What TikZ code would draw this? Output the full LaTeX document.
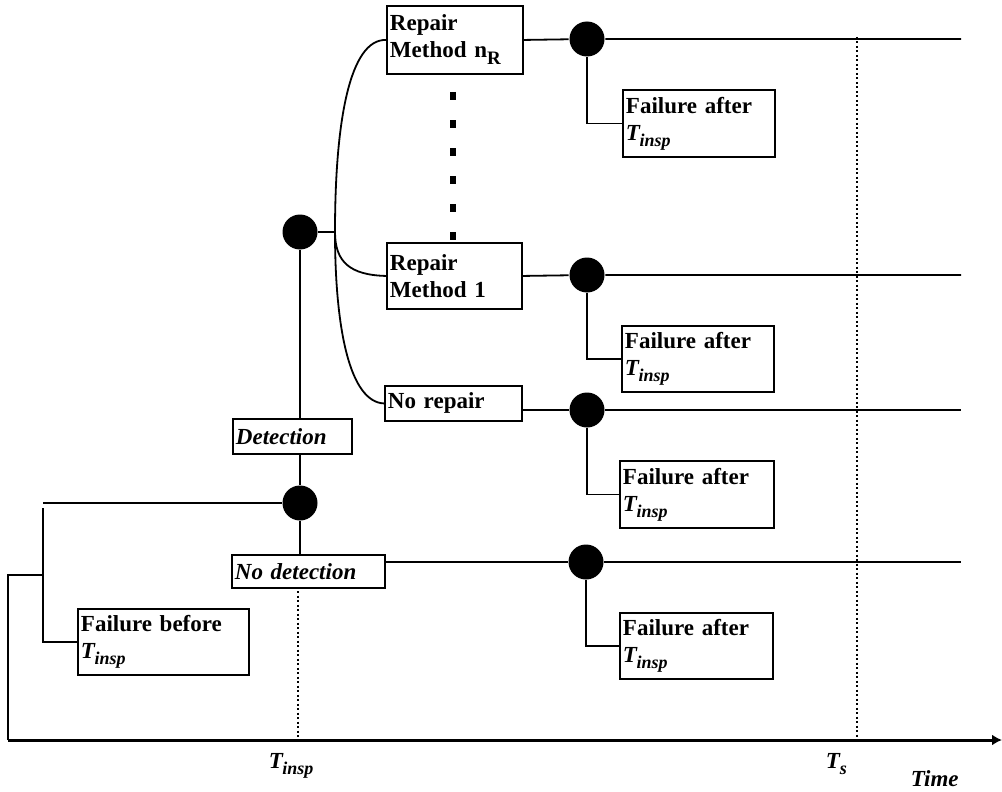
\documentclass[tikz,border=0pt]{standalone}
\usepackage{fontspec}
\setmainfont{Liberation Serif}
\usetikzlibrary{arrows.meta}
\newcommand\myTinsp{{\bfseries\itshape\fontsize{23}{23}\selectfont T\kern-0.5pt\raisebox{-6pt}{\fontsize{18}{18}\selectfont insp}}}
\newcommand\myTs{{\bfseries\itshape\fontsize{23}{23}\selectfont T\raisebox{-6pt}{\fontsize{18}{18}\selectfont s}}}
\newcommand\mynR{n\raisebox{-7pt}{\fontsize{19}{19}\selectfont R}}
\begin{document}
\begin{tikzpicture}[x=1pt,y=-1pt,line width=1.8pt,
  box/.style={draw,line width=1.9pt,inner xsep=3pt,inner ysep=0pt,align=left,anchor=north west,font=\fontsize{23}{27}\selectfont\bfseries},
  ibox/.style={box,font=\fontsize{23}{27}\selectfont\bfseries\itshape},
  blob/.style={circle,fill=black,draw=none,minimum size=35pt,inner sep=0pt},
  dotline/.style={line width=2pt,dash pattern=on 2pt off 2.5pt},
  bigdash/.style={line width=5.5pt,dash pattern=on 8pt off 20pt},
  axisline/.style={line width=3pt,-{Latex[length=10pt,width=11pt]}},
  lbl/.style={inner sep=0pt,anchor=base west}]
\useasboundingbox (0,0) rectangle (1002,792);

% boxes
\node[box,text width=130pt,minimum height=68pt] (rmn) at (386,5) {Repair\\Method \mynR};
\node[box,text width=129pt,minimum height=66pt] (rm1) at (386,242) {Repair\\Method 1};
\node[box,text width=131pt,minimum height=35pt] (nr) at (384,385) {No repair};
\node[ibox,text width=113pt,minimum height=35pt] (det) at (232,418) {Detection};
\node[ibox,text width=147pt,minimum height=33pt] (nd) at (231,554) {No detection};
\node[box,text width=165pt,minimum height=66pt] (fb) at (77,608) {Failure before\\\myTinsp};
\node[box,text width=146pt,minimum height=67pt] (fa1) at (622,89) {Failure after\\\myTinsp};
\node[box,text width=146pt,minimum height=66pt] (fa2) at (621,325) {Failure after\\\myTinsp};
\node[box,text width=148pt,minimum height=67pt] (fa3) at (619,460) {Failure after\\\myTinsp};
\node[box,text width=147pt,minimum height=66pt] (fa4) at (619,612) {Failure after\\\myTinsp};

% circles
\node[blob] (c1) at (300,503) {};
\node[blob] (c2) at (300,232) {};
\node[blob] (c3) at (587,39) {};
\node[blob] (c4) at (587,275) {};
\node[blob] (c5) at (587,410) {};
\node[blob] (c6) at (586,562) {};

% coordinates
\coordinate (o) at (8,740);
\coordinate (axend) at (1002,740);
\coordinate (k1) at (8,575);
\coordinate (k2) at (43,575);
\coordinate (k3) at (43,508);
\coordinate (k5) at (43,503);
\coordinate (j) at (335,232);
\coordinate (e3) at (961,39);
\coordinate (e4) at (961,275);
\coordinate (e5) at (961,410);
\coordinate (e6) at (961,562);
\coordinate (ti1) at (298,591);
\coordinate (ti2) at (298,740);
\coordinate (ts1) at (857,37);
\coordinate (ts2) at (857,740);
\coordinate (d1) at (453,92);
\coordinate (d2) at (453,241);

% time axis
\draw[axisline] (o) -- (axend);
\draw[dotline] (ti1) -- (ti2);
\draw[dotline] (ts1) -- (ts2);

% left tree
\draw (o) -- (k1) -- (k2);
\draw (k3) |- (fb.west);
\draw (k5) -- (c1);
\draw (c1) -- (c1 |- nd.north);
\draw (c1) -- (c1 |- det.south);
\draw (c1 |- det.north) -- (c2);
\draw (c2) -- (j);

% branches
\draw (j) .. controls (335,120) and (350,39) .. (rmn.west);
\draw (j) .. controls (335,262) and (350,275) .. (rm1.west);
\draw (j) .. controls (335,330) and (350,402) .. (nr.west);
\draw[bigdash] (d1) -- (d2);

% horizontal lines
\draw (rmn.east) -- (c3) -- (e3);
\draw (rm1.east) -- (c4) -- (e4);
\draw (nr.east |- c5) -- (c5) -- (e5);
\draw (nd.east |- c6) -- (c6) -- (e6);

% failure after connectors
\draw (c3) |- (fa1.west);
\draw (c4) |- (fa2.west);
\draw (c5) |- (fa3.west);
\draw (c6) |- (fa4.west);

% labels
\node[lbl] (tl) at (268,768) {\myTinsp};
\node[lbl] (tsl) at (825,768) {\myTs};
\node[lbl,font=\fontsize{23}{23}\selectfont\bfseries\itshape] (time) at (910,786) {Time};
\end{tikzpicture}
\end{document}
